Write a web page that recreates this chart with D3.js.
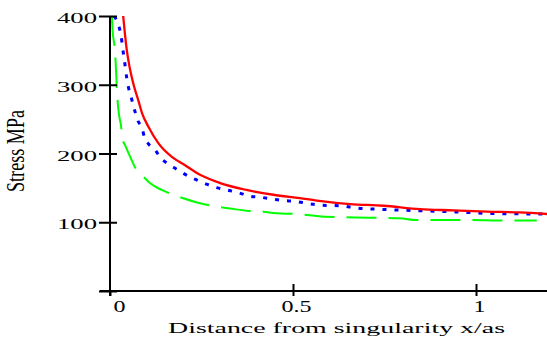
<!DOCTYPE html>
<html>
<head>
<meta charset="utf-8">
<script src="https://cdn.jsdelivr.net/npm/d3@7"></script>
<style>
  html, body { margin: 0; padding: 0; background: #fff; }
  svg { display: block; }
  text { font-family: "Liberation Serif", "Times New Roman", serif; fill: #000; }
</style>
</head>
<body>
<svg id="chart" width="547" height="345"></svg>
<script>
// ---- data ----
const xTicks = [0, 0.5, 1];
const yTicks = [0, 100, 200, 300, 400];
const yTickLabels = ["", "100", "200", "300", "400"];
const xTitle = "Distance from singularity x/as";
const yTitle = "Stress MPa";

const redX = [0.036, 0.041, 0.046, 0.052, 0.059, 0.066, 0.077, 0.088, 0.105, 0.132, 0.169, 0.205, 0.246, 0.301, 0.373, 0.446, 0.519, 0.565, 0.656, 0.747, 0.847, 0.938, 1.029, 1.12, 1.194];
const redY = [400, 373, 350, 330, 312, 297, 278, 258, 239, 215, 195, 183, 169, 157, 147, 140, 135, 131.6, 126.5, 124, 119, 117.3, 115.4, 114.4, 112];

const blueX = [0.011, 0.023, 0.030, 0.036, 0.043, 0.046, 0.050, 0.057, 0.063, 0.070, 0.076, 0.088, 0.094, 0.105, 0.125, 0.137, 0.155, 0.178, 0.196, 0.219, 0.239, 0.266, 0.292, 0.319, 0.351, 0.381, 0.41, 0.442, 0.473, 0.505, 0.539, 0.572, 0.637, 0.671, 0.738, 0.84, 0.947, 1.052, 1.19];
const blueY = [400, 387, 372, 348, 321, 309, 297, 284, 271, 258, 248, 236, 224, 214, 204, 194.5, 186, 178.5, 172.5, 165.8, 161, 155, 150.3, 147, 143, 138, 136.4, 134, 131.6, 130.4, 127.5, 125, 123.6, 120.7, 118.8, 116.8, 115, 112.6, 112];

const greenX = [0.005, 0.007, 0.014, 0.016, 0.019, 0.021, 0.025, 0.030, 0.034, 0.043, 0.057, 0.070, 0.091, 0.109, 0.141, 0.173, 0.2, 0.246, 0.282, 0.328, 0.373, 0.419, 0.455, 0.51, 0.587, 0.71, 0.792, 0.838, 0.984, 1.075, 1.166];
const greenY = [400, 380, 346, 326.5, 292, 275, 255, 241, 222, 210, 193, 178.5, 166.5, 157, 147, 140, 135, 127.5, 123.6, 120, 116.8, 115.4, 113, 112, 108, 106.6, 105.7, 103.3, 103.3, 102.4, 102.4];

// ---- layout ----
const svg = d3.select("#chart");
const x0 = 110, y0 = 291;
const x = d3.scaleLinear().domain([0, 1.2]).range([x0, x0 + 1.2 * 366]);
const y = d3.scaleLinear().domain([0, 400]).range([y0, 16]);

svg.append("defs").append("clipPath").attr("id", "plotclip")
  .append("rect").attr("x", x0).attr("y", y(400)).attr("width", 547 - x0).attr("height", y0 - y(400));

// ---- curves ----
const line = d3.line().x(d => x(d[0])).y(d => y(d[1])).curve(d3.curveMonotoneX);
const series = [
  { xs: greenX, ys: greenY, color: "#00ff00", width: 2, dash: "30,12" },
  { xs: blueX, ys: blueY, color: "#0000ff", width: 3, dash: "4,8" },
  { xs: redX, ys: redY, color: "#ff0000", width: 2.3, dash: null }
];
const g = svg.append("g").attr("clip-path", "url(#plotclip)");
series.forEach(s => {
  const pts = s.xs.map((v, i) => [v, s.ys[i]]);
  g.append("path").datum(pts)
    .attr("d", line)
    .attr("fill", "none")
    .attr("stroke", s.color)
    .attr("stroke-width", s.width)
    .attr("stroke-dasharray", s.dash);
});

// ---- axes ----
const yg = svg.append("g").attr("transform", `translate(${x0},0)`)
  .call(d3.axisLeft(y).tickValues(yTicks).tickSize(0).tickFormat(""));
yg.select(".domain").remove();
yg.selectAll(".tick line").remove();

const xg = svg.append("g").attr("transform", `translate(0,${y0})`)
  .call(d3.axisBottom(x).tickValues(xTicks).tickSize(0).tickFormat(""));
xg.select(".domain").remove();
xg.selectAll(".tick line").remove();

// axis lines
svg.append("line").attr("x1", x0).attr("x2", x0).attr("y1", y(400)).attr("y2", y0 + 5)
  .attr("stroke", "#000").attr("stroke-width", 2);
svg.append("line").attr("x1", x0 - 10).attr("x2", 547).attr("y1", y0).attr("y2", y0)
  .attr("stroke", "#000").attr("stroke-width", 2);

// y ticks + labels
yg.selectAll(".tick").each(function(d, i) {
  const t = d3.select(this);
  t.append("line").attr("x1", -11).attr("x2", 7).attr("y1", 0).attr("y2", 0)
    .attr("stroke", "#000").attr("stroke-width", 2);
  const lbl = yTickLabels[i];
  if (lbl) {
    t.append("text").text(lbl)
      .attr("x", -13).attr("y", 6.5)
      .attr("text-anchor", "end")
      .attr("font-size", 14.5)
      .attr("textLength", 40)
      .attr("lengthAdjust", "spacingAndGlyphs");
  }
});

// x ticks + labels
xg.selectAll(".tick").each(function(d) {
  const t = d3.select(this);
  t.append("line").attr("x1", 0).attr("x2", 0).attr("y1", d === 0 ? 0 : -7).attr("y2", 5)
    .attr("stroke", "#000").attr("stroke-width", 2);
  t.append("text").text(String(d))
    .attr("font-size", 16)
    .attr("text-anchor", "middle")
    .attr("transform", `translate(${d === 0 ? 9 : 3},21) scale(1.5,1)`);
});

// titles
svg.append("text").text(xTitle)
  .attr("x", 168).attr("y", 333)
  .attr("font-size", 15)
  .attr("textLength", 337)
  .attr("lengthAdjust", "spacingAndGlyphs");

svg.append("text").text(yTitle)
  .attr("text-anchor", "middle")
  .attr("font-size", 17)
  .attr("textLength", 82)
  .attr("lengthAdjust", "spacingAndGlyphs")
  .attr("transform", "translate(24,151) scale(1.5,1) rotate(-90)");
</script>
</body>
</html>
